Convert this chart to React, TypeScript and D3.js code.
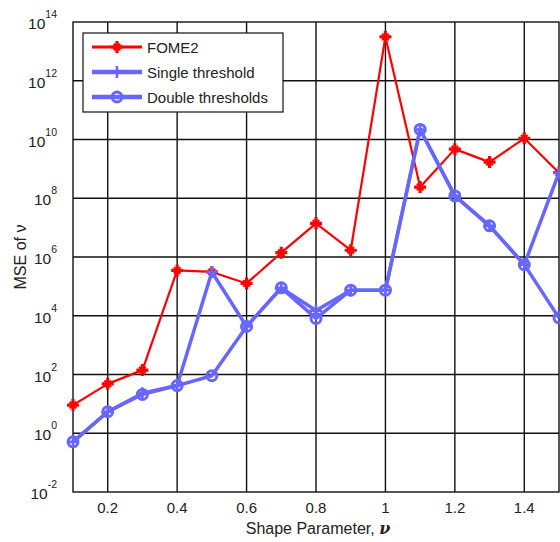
import { useEffect, useRef } from "react";
import * as d3 from "d3";

const shapeParam = [0.1, 0.2, 0.3, 0.4, 0.5, 0.6, 0.7, 0.8, 0.9, 1.0, 1.1, 1.2, 1.3, 1.4, 1.5];
const fome2 = [9.1, 48, 141, 3.5e5, 3.1e5, 1.26e5, 1.4e6, 1.4e7, 1.7e6, 3.1e13, 2.4e8, 4.7e9, 1.7e9, 1.1e10, 7.4e8];
const singleThreshold = [0.51, 5.4, 23, 42, 3.1e5, 4300, 8.9e4, 1.5e4, 7.4e4, 7.4e4, 2.2e10, 1.2e8, 1.15e7, 5.5e5, 7.4e8];
const doubleThresholds = [0.51, 5.4, 21, 42, 91, 4300, 8.9e4, 8.1e3, 7.4e4, 7.4e4, 2.2e10, 1.2e8, 1.15e7, 5.5e5, 8.5e3];
const xTicks = [0.2, 0.4, 0.6, 0.8, 1, 1.2, 1.4];
const yExponents = [-2, 0, 2, 4, 6, 8, 10, 12, 14];

const legendNames = ["FOME2", "Single threshold", "Double thresholds"];

function App() {
  const svgRef = useRef<SVGSVGElement>(null);

  useEffect(() => {
    const width = 560;
    const height = 542;
    const left = 73, right = 559, top = 22, bottom = 492;
    const red = "#ff0000";
    const blue = "#6767ff";

    const svg = d3.select(svgRef.current);
    svg.selectAll("*").remove();
    svg.attr("width", width).attr("height", height);

    const x = d3.scaleLinear().domain([0.1, 1.5]).range([left, right]);
    const y = d3.scaleLog().domain([1e-2, 1e14]).range([bottom, top]);

    svg.append("rect").attr("width", width).attr("height", height).attr("fill", "#fff");

    // grid
    const grid = svg.append("g").attr("stroke", "#111").attr("stroke-width", 1.4);
    xTicks.forEach((t) => {
      grid.append("line").attr("x1", x(t)).attr("x2", x(t)).attr("y1", top).attr("y2", bottom);
    });
    yExponents.slice(1, -1).forEach((e) => {
      grid.append("line").attr("x1", left).attr("x2", right).attr("y1", y(10 ** e)).attr("y2", y(10 ** e));
    });

    // frame
    svg.append("rect")
      .attr("x", left).attr("y", top)
      .attr("width", right - left).attr("height", bottom - top)
      .attr("fill", "none").attr("stroke", "#111").attr("stroke-width", 1.4);

    const font = "'Liberation Sans', Arial, sans-serif";

    // x tick labels
    xTicks.forEach((t) => {
      svg.append("text")
        .attr("x", x(t)).attr("y", bottom + 21)
        .attr("text-anchor", "middle")
        .attr("font-family", font).attr("font-size", 15).attr("fill", "#222")
        .text(String(t));
    });

    // y tick labels 10^n
    yExponents.forEach((e) => {
      const t = svg.append("text")
        .attr("x", 57).attr("y", y(10 ** e) + 7)
        .attr("text-anchor", "end")
        .attr("font-family", font).attr("font-size", 15.5).attr("fill", "#222");
      t.append("tspan").text("10");
      t.append("tspan").attr("font-size", 10.5).attr("dy", -11).text(String(e));
    });

    // axis titles
    const xt = svg.append("text")
      .attr("x", 318).attr("y", 534)
      .attr("text-anchor", "middle")
      .attr("font-family", font).attr("font-size", 16).attr("fill", "#222");
    xt.append("tspan").text("Shape Parameter,  ");
    xt.append("tspan").attr("font-family", "'DejaVu Serif', serif").attr("font-style", "italic").attr("font-weight", "bold").text("ν");

    const yt = svg.append("text")
      .attr("transform", `translate(26, 257) rotate(-90)`)
      .attr("text-anchor", "middle")
      .attr("font-family", font).attr("font-size", 16).attr("fill", "#222");
    yt.append("tspan").text("MSE of ");
    yt.append("tspan").text("ν");

    const plotLine = d3.line<number>()
      .x((_, i) => x(shapeParam[i]))
      .y((d) => y(d));

    // bold '*' marker: thick plus with short diagonals
    const star = (g: any, cx: number, cy: number, color: string) => {
      const s = 6, d = 3.3;
      g.append("path")
        .attr("d", `M${cx - s},${cy}H${cx + s}M${cx},${cy - s}V${cy + s}`)
        .attr("stroke", color).attr("stroke-width", 3.2).attr("fill", "none");
      g.append("path")
        .attr("d", `M${cx - d},${cy - d}L${cx + d},${cy + d}M${cx - d},${cy + d}L${cx + d},${cy - d}`)
        .attr("stroke", color).attr("stroke-width", 2).attr("fill", "none");
    };
    const plus = (g: any, cx: number, cy: number, color: string) => {
      const s = 6;
      g.append("path")
        .attr("d", `M${cx - s},${cy}H${cx + s}M${cx},${cy - s}V${cy + s}`)
        .attr("stroke", color).attr("stroke-width", 2.6).attr("fill", "none");
    };
    const circle = (g: any, cx: number, cy: number, color: string) => {
      g.append("circle")
        .attr("cx", cx).attr("cy", cy).attr("r", 5)
        .attr("stroke", color).attr("stroke-width", 3).attr("fill", "none");
    };

    const series = [
      { data: fome2, color: red, width: 2.2, marker: star },
      { data: singleThreshold, color: blue, width: 3.5, marker: plus },
      { data: doubleThresholds, color: blue, width: 3.5, marker: circle },
    ];

    series.forEach((s) => {
      const g = svg.append("g");
      g.append("path")
        .attr("d", plotLine(s.data))
        .attr("fill", "none")
        .attr("stroke", s.color)
        .attr("stroke-width", s.width)
        .attr("stroke-linejoin", "round");
      s.data.forEach((v, i) => s.marker(g, x(shapeParam[i]), y(v), s.color));
    });

    // legend
    const lg = svg.append("g");
    lg.append("rect")
      .attr("x", 83).attr("y", 33).attr("width", 200).attr("height", 79)
      .attr("fill", "#fff").attr("stroke", "#111").attr("stroke-width", 1.2);
    series.forEach((s, i) => {
      const ly = 47 + i * 25;
      lg.append("line")
        .attr("x1", 92).attr("x2", 142).attr("y1", ly).attr("y2", ly)
        .attr("stroke", s.color).attr("stroke-width", s.width + 1);
      s.marker(lg, 117, ly, s.color);
      lg.append("text")
        .attr("x", 147).attr("y", ly + 5.5)
        .attr("font-family", font).attr("font-size", 15).attr("fill", "#222")
        .text(legendNames[i]);
    });
  }, []);

  return (
    <svg
      ref={svgRef}
      style={{ position: "absolute", left: 0, top: 0, display: "block" }}
    ></svg>
  );
}

export default App;
